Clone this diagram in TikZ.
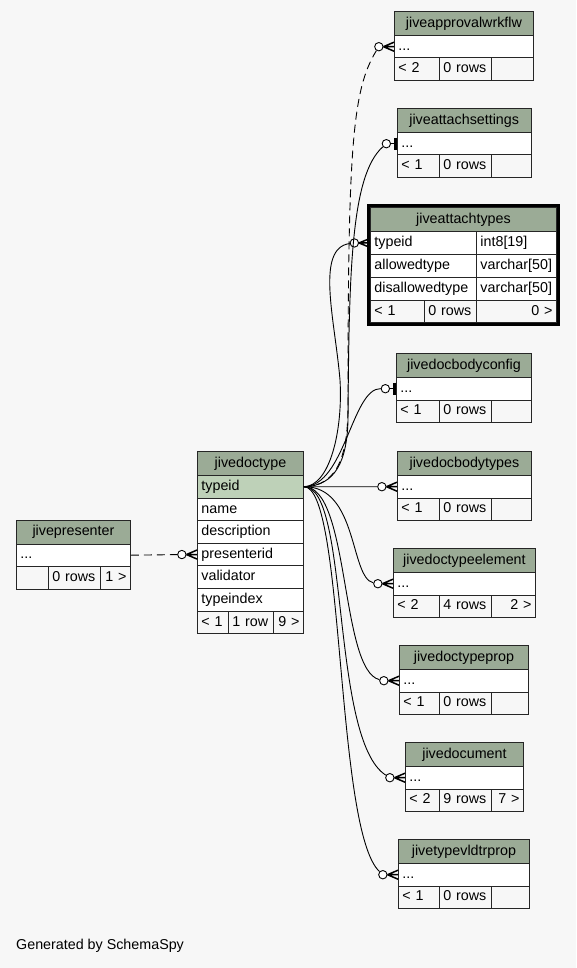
\documentclass[tikz,border=0pt]{standalone}
\usepackage{fontspec}
\setmainfont{Liberation Sans}
\usetikzlibrary{positioning,fit}

\definecolor{bgcol}{HTML}{F7F7F7}
\definecolor{headcol}{HTML}{9BAB96}
\definecolor{keycol}{HTML}{BED1B8}

\tikzset{
  cell/.style={draw=black!85, line width=0.9pt, anchor=north west, inner xsep=4pt, inner ysep=0pt,
    text height=10.3pt, text depth=2.9pt, align=left},
  head/.style={fill=headcol, align=center},
  row/.style={fill=white},
  key/.style={fill=keycol},
  foot/.style={fill=bgcol},
  fk/.style={line width=0.9pt, black},
  optional/.style={fk, dash pattern=on 8pt off 5pt},
  odot/.style={circle, draw=black, fill=white, line width=0.9pt, minimum size=8.4pt, inner sep=0pt},
  crow/.style={line width=1.5pt, black},
}

% one table cell: name, left, top, width, height, style, text
\newcommand{\dbcell}[7]{%
  \pgfmathsetmacro{\cellfull}{#4}%
  \pgfmathsetmacro{\celltext}{#4-8}%
  \node[cell, #6, minimum width=\cellfull pt, minimum height=#5pt, text width=\celltext pt] (#1) at (#2,#3) {#7};}

% table with one "..." row: name, left, top, right, title, footer texts
\newcommand{\smalltable}[8]{%
  \dbcell{#1-head}{#2}{#3}{#4-#2}{24}{head}{#5}
  \dbcell{#1-row}{#2}{#3+24}{#4-#2}{22.5}{row}{...}
  \dbcell{#1-fl}{#2}{#3+46.5}{439-#2}{22.5}{foot}{#6}
  \dbcell{#1-fm}{439}{#3+46.5}{52}{22.5}{foot}{#7}
  \dbcell{#1-fr}{491}{#3+46.5}{#4-491}{22.5}{foot, align=right}{#8}}

\begin{document}
\begin{tikzpicture}[x=1pt, y=-1pt, font=\fontsize{14.3}{16}\selectfont]
  \useasboundingbox (0,0) rectangle (576,968);
  \fill[bgcol] (0,0) rectangle (576,968);

  % tables on the right
  \smalltable{apw}{394}{11}{533}{jiveapprovalwrkflw}{< 2}{0 rows}{}
  \smalltable{ats}{397}{108}{530.5}{jiveattachsettings}{< 1}{0 rows}{}
  \smalltable{dbc}{396}{353}{531}{jivedocbodyconfig}{< 1}{0 rows}{}
  \smalltable{dbt}{397}{451}{531}{jivedocbodytypes}{< 1}{0 rows}{}
  \smalltable{dte}{393}{548}{535}{jivedoctypeelement}{< 2}{4 rows}{2 >}
  \smalltable{dtp}{399}{645}{528}{jivedoctypeprop}{< 1}{0 rows}{}
  \smalltable{jd}{405}{742}{523}{jivedocument}{< 2}{9 rows}{7 >}
  \smalltable{tvp}{398}{839}{529}{jivetypevldtrprop}{< 1}{0 rows}{}

  % jiveattachtypes
  \dbcell{at-head}{370}{207}{186}{24}{head}{jiveattachtypes}
  \dbcell{at-typeid}{370}{231}{106}{23}{row}{typeid}
  \dbcell{at-typeid-t}{476}{231}{80}{23}{row}{int8[19]}
  \dbcell{at-allowed}{370}{254}{106}{23}{row}{allowedtype}
  \dbcell{at-allowed-t}{476}{254}{80}{23}{row}{varchar[50]}
  \dbcell{at-disallowed}{370}{277}{106}{23}{row}{disallowedtype}
  \dbcell{at-disallowed-t}{476}{277}{80}{23}{row}{varchar[50]}
  \dbcell{at-fl}{370}{300}{54}{22}{foot}{< 1}
  \dbcell{at-fm}{424}{300}{52}{22}{foot}{0 rows}
  \dbcell{at-fr}{476}{300}{80}{22}{foot, align=right}{0 >}
  \node[fit=(at-head)(at-fr), draw=black, line width=3pt, inner sep=1.5pt] (at-frame) {};

  % jivedoctype
  \dbcell{dt-head}{197}{451}{106}{24}{head}{jivedoctype}
  \dbcell{dt-typeid}{197}{475}{106}{22.6}{key}{typeid}
  \foreach \f [count=\i from 1] in {name,description,presenterid,validator,typeindex} {
    \dbcell{dt-\f}{197}{475+\i*22.6}{106}{22.6}{row}{\f}
  }
  \dbcell{dt-fl}{197}{610.6}{31}{22.6}{foot}{< 1}
  \dbcell{dt-fm}{228}{610.6}{45}{22.6}{foot}{1 row}
  \dbcell{dt-fr}{273}{610.6}{30}{22.6}{foot, align=right}{9 >}

  % jivepresenter
  \dbcell{jp-head}{16}{520}{114}{23.5}{head}{jivepresenter}
  \dbcell{jp-row}{16}{543.5}{114}{22.5}{row}{...}
  \dbcell{jp-fl}{16}{566}{32}{23}{foot}{}
  \dbcell{jp-fm}{48}{566}{52}{23}{foot}{0 rows}
  \dbcell{jp-fr}{100}{566}{30}{23}{foot, align=right}{1 >}

  % circles at the child ends
  \foreach \t in {apw,dbt,dte,dtp,jd,tvp} {
    \node[odot, left=10.5pt of \t-row] (\t-o) {};
  }
  \node[odot, left=6pt of ats-row] (ats-o) {};
  \node[odot, left=6pt of dbc-row] (dbc-o) {};
  \node[odot, left=11pt of at-typeid] (at-o) {};
  \node[odot, left=10.5pt of dt-presenterid] (jp-o) {};

  % connectors from jivedoctype.typeid
  \draw[optional] (dt-typeid.east) .. controls (338,486) and (348,455) .. (348,405)
    .. controls (348,150) and (352,90) .. (apw-o);
  \draw[fk] (dt-typeid.east) .. controls (336,486) and (347,460) .. (348,420)
    .. controls (349,270) and (351,175) .. (ats-o);
  \draw[fk] (dt-typeid.east) .. controls (330,486) and (343,430) .. (340,380)
    .. controls (335,320) and (315,248) .. (at-o);
  \draw[fk] (dt-typeid.east) .. controls (345,486) and (352,388) .. (dbc-o);
  \draw[fk] (dt-typeid.east) -- (dbt-o);
  \draw[fk] (dt-typeid.east) .. controls (358,486) and (350,578) .. (dte-o);
  \draw[fk] (dt-typeid.east) .. controls (350,486) and (340,670) .. (dtp-o);
  \draw[fk] (dt-typeid.east) .. controls (350,486) and (330,740) .. (jd-o);
  \draw[fk] (dt-typeid.east) .. controls (345,486) and (335,830) .. (tvp-o);
  \draw[optional] (jp-row.east) -- (jp-o);

  % crow's feet
  \foreach \o/\r in {apw-o/apw-row, at-o/at-typeid, dbt-o/dbt-row, dte-o/dte-row,
                     dtp-o/dtp-row, jd-o/jd-row, tvp-o/tvp-row, jp-o/dt-presenterid} {
    \draw[crow] (\o.east) -- ([yshift=4.5pt]\r.west)
                (\o.east) -- (\r.west)
                (\o.east) -- ([yshift=-4.5pt]\r.west);
  }
  % one-to-one bars
  \foreach \o/\r in {ats-o/ats-row, dbc-o/dbc-row} {
    \draw[fk] (\o.east) -- (\r.west);
    \draw[line width=3pt] ([xshift=-1.6pt, yshift=6pt]\r.west) -- ([xshift=-1.6pt, yshift=-6pt]\r.west);
  }

  \node[anchor=base west, inner sep=0pt] (credit) at (16,949) {Generated by SchemaSpy};
\end{tikzpicture}
\end{document}
